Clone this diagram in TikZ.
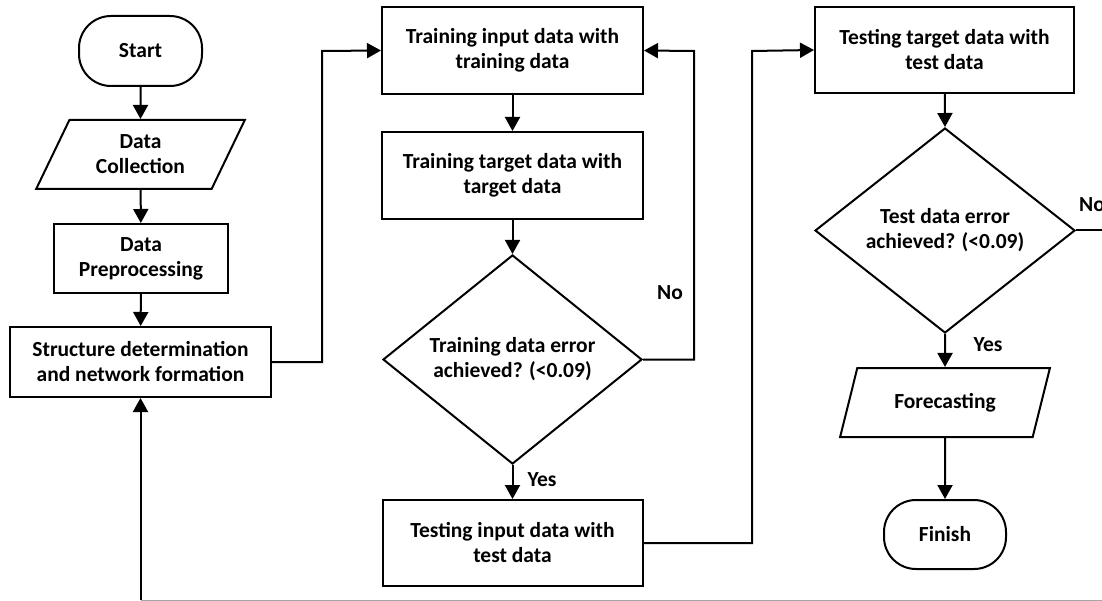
\documentclass[tikz,border=0pt]{standalone}
\usepackage{fontspec}
\setmainfont{Carlito}
\usetikzlibrary{shapes.geometric,arrows.meta}
\begin{document}
\begin{tikzpicture}[x=1pt,y=-1pt,
  every node/.style={font=\bfseries\fontsize{21.5}{25}\selectfont, align=center, inner sep=0pt},
  box/.style={draw, line width=2pt, rectangle},
  term/.style={draw, line width=2pt, rectangle, rounded corners=32pt},
  io/.style={draw, line width=2pt, trapezium, trapezium left angle=62, trapezium right angle=118, trapezium stretches=true},
  decision/.style={draw, line width=2pt, diamond},
  flow/.style={line width=2pt, -{Triangle[length=14pt,width=15pt]}},
  link/.style={line width=2pt},
  lbl/.style={font=\bfseries\fontsize{21.5}{25}\selectfont}]
\useasboundingbox (0,0) rectangle (1102,601);

% left column
\node[term, minimum width=123pt, minimum height=70pt] (start) at (140.5,51) {Start};
\node[io, minimum width=209pt, minimum height=69pt] (dcol) at (140.5,154.5) {Data\\Collection};
\node[box, minimum width=174pt, minimum height=69pt] (dpre) at (141,258.5) {Data\\Preprocessing};
\node[box, minimum width=261pt, minimum height=70pt] (struct) at (140.5,362) {Structure determination\\and network formation};

% training column
\node[box, minimum width=261pt, minimum height=87pt] (tin) at (512.5,50.5) {Training input data with\\training data};
\node[box, minimum width=261pt, minimum height=87pt] (ttg) at (512.5,175.5) {Training target data with\\target data};
\node[decision, minimum width=259pt, minimum height=205pt] (d1) at (512.5,359.5) {Training data error\\achieved? (<0.09)};
\node[box, minimum width=260pt, minimum height=86pt] (tein) at (512.5,543) {Testing input data with\\test data};

% testing column
\node[box, minimum width=259pt, minimum height=86pt] (tt) at (944.5,50) {Testing target data with\\test data};
\node[decision, minimum width=260pt, minimum height=205pt] (d2) at (945,230.5) {Test data error\\achieved? (<0.09)};
\node[io, minimum width=210pt, minimum height=69pt] (fore) at (945,402.5) {Forecasting};
\node[term, minimum width=122pt, minimum height=69pt] (fin) at (945,534.5) {Finish};

% routing points
\coordinate (sbend) at (322,51);
\coordinate (nbend) at (694,51);
\coordinate (tbend) at (752,51);
\coordinate (fbot) at (140.5,600);
\coordinate (fend) at (1102,600);
\coordinate (nend) at (1102,230.5);

% connectors
\draw[flow] (start) -- (dcol);
\draw[flow] (dcol) -- (dpre);
\draw[flow] (dpre) -- (struct);
\draw[flow] (struct.east) -| (sbend) -- (tin.west);
\draw[flow] (tin) -- (ttg);
\draw[flow] (ttg) -- (d1.north);
\draw[flow] (d1.east) -| (nbend) -- (tin.east);
\draw[flow] (d1.south) -- (tein.north);
\draw[flow] (tein.east) -| (tbend) -- (tt.west);
\draw[flow] (tt) -- (d2.north);
\draw[flow] (d2.south) -- (fore.north);
\draw[flow] (fore) -- (fin);
\draw[link] (d2.east) -- (nend);
\draw[flow] (fbot) -- (struct.south);
\draw[line width=1pt, black!35] (fbot) -- (fend);

% branch labels
\node[lbl] (no1) at (670,293) {No};
\node[lbl] (yes1) at (542,480) {Yes};
\node[lbl] (yes2) at (988,345) {Yes};
\node[lbl, anchor=west] (no2) at (1079,205) {No};
\end{tikzpicture}
\end{document}
